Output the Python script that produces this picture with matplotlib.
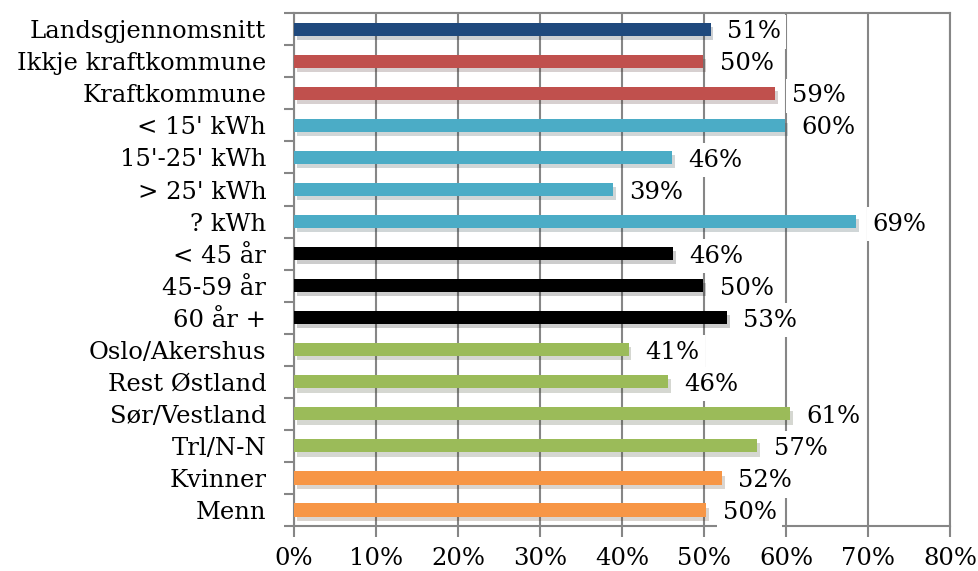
import matplotlib
matplotlib.use("Agg")
import matplotlib.pyplot as plt
import matplotlib.patheffects as pe

# Data (top to bottom as in the chart)
categories = ["Landsgjennomsnitt", "Ikkje kraftkommune", "Kraftkommune",
              "< 15' kWh", "15'-25' kWh", "> 25' kWh", "? kWh",
              "< 45 år", "45-59 år", "60 år +",
              "Oslo/Akershus", "Rest Østland", "Sør/Vestland", "Trl/N-N",
              "Kvinner", "Menn"]
values = [50.8, 49.9, 58.7, 59.9, 46.1, 38.9, 68.6,
          46.2, 49.9, 52.8,
          40.8, 45.6, 60.5, 56.5,
          52.2, 50.3]
labels = ["51%", "50%", "59%", "60%", "46%", "39%", "69%",
          "46%", "50%", "53%",
          "41%", "46%", "61%", "57%",
          "52%", "50%"]
groups = ["avg", "kraft", "kraft", "kwh", "kwh", "kwh", "kwh",
          "age", "age", "age", "reg", "reg", "reg", "reg", "sex", "sex"]
colors = {"avg": "#1F497D", "kraft": "#C0504D", "kwh": "#4BACC6",
          "age": "#000000", "reg": "#9BBB59", "sex": "#F79646"}

plt.rcParams['font.family'] = ['DejaVu Serif']
fs = 17.5

fig = plt.figure(figsize=(9.79, 5.71), dpi=100)
ax = fig.add_axes([0.3003, 0.0788, 0.670, 0.898])

n = len(categories)
ypos = list(range(n))
bars = ax.barh(ypos, values, height=0.41,
               color=[colors[g] for g in groups], zorder=3)
for b in bars:
    b.set_path_effects([pe.SimplePatchShadow(offset=(2, -3), alpha=0.2),
                        pe.Normal()])

for y, v, lab in zip(ypos, values, labels):
    ax.text(v + 2.0, y + 0.08, lab, va="center", ha="left", fontsize=fs,
            zorder=4,
            bbox=dict(facecolor="white", edgecolor="none", pad=4))

ax.set_xlim(0, 80)
ax.set_ylim(n - 0.5, -0.5)
ax.set_xticks(range(0, 81, 10))
ax.set_xticklabels([f"{t}%" for t in range(0, 81, 10)], fontsize=fs)
ax.set_yticks(ypos)
ax.set_yticklabels(categories, fontsize=fs)
ax.tick_params(axis="y", length=0, pad=20)
ax.set_yticks([i - 0.5 for i in range(n + 1)], minor=True)
ax.tick_params(axis="y", which="minor", length=7, color="#868686", width=1.5)
ax.tick_params(axis="x", length=8, color="#868686", width=1.5, pad=7)

ax.grid(axis="x", color="#868686", linewidth=1.5, zorder=0)
ax.set_axisbelow(True)
for s in ax.spines.values():
    s.set_color("#868686")
    s.set_linewidth(1.5)

fig.savefig("out.png", dpi=100)
